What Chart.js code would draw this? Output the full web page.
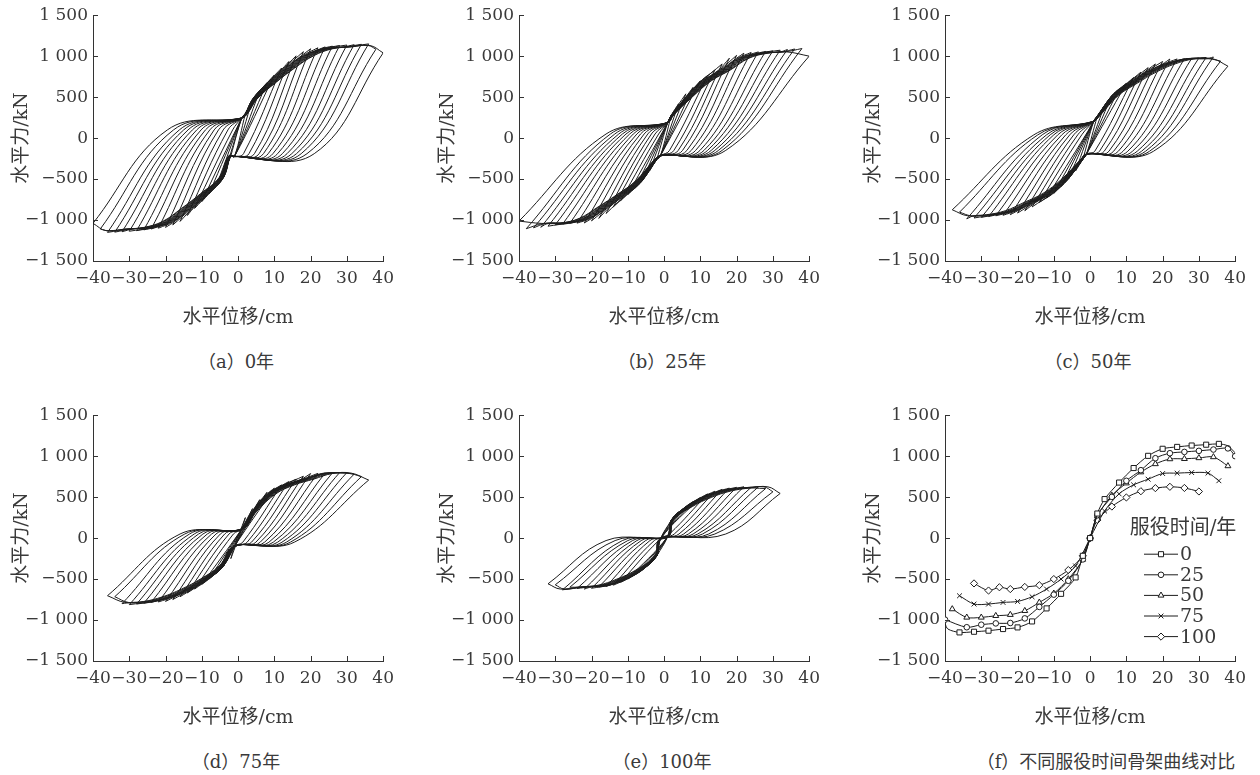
<!DOCTYPE html>
<html>
<head>
<meta charset="utf-8">
<script src="https://cdn.jsdelivr.net/npm/chart.js@4.4.0/dist/chart.umd.min.js"></script>
<style>
  html, body { margin: 0; padding: 0; background: #fff; }
  body { position: relative; width: 1260px; height: 775px; overflow: hidden; }
  canvas { position: absolute; }
  .cap {
    position: absolute; transform: translate(-50%, -50%); white-space: nowrap;
    font: 18px 'DejaVu Serif', 'Noto Sans CJK SC', serif; color: #3a3a3a;
  }
</style>
</head>
<body>
<canvas id="chartA" width="401" height="331" style="left:0px;top:0px"></canvas>
<canvas id="chartB" width="401" height="331" style="left:426px;top:0px"></canvas>
<canvas id="chartC" width="401" height="331" style="left:852px;top:0px"></canvas>
<canvas id="chartD" width="401" height="331" style="left:0px;top:400px"></canvas>
<canvas id="chartE" width="401" height="331" style="left:426px;top:400px"></canvas>
<canvas id="chartF" width="401" height="331" style="left:852px;top:400px"></canvas>

<div class="cap" style="left:236px;top:360px">（a）0年</div>
<div class="cap" style="left:662px;top:360px">（b）25年</div>
<div class="cap" style="left:1088px;top:360px">（c）50年</div>
<div class="cap" style="left:236px;top:760px">（d）75年</div>
<div class="cap" style="left:662px;top:760px">（e）100年</div>
<div class="cap" style="left:1106px;top:760px">（f）不同服役时间骨架曲线对比</div>

<script>
// ---- skeleton curves, displacement (cm) / force (kN) ----
const serviceYears = ['0', '25', '50', '75', '100'];

const skelX0 = [-40, -39.2, -36, -32, -28, -24, -20, -16, -12, -8, -4, -2, 0, 2, 4, 8, 12, 16, 20, 24, 28, 32, 35.5, 38, 40];
const skelY0 = [-1045, -1110, -1151, -1143, -1130, -1110, -1090, -1017, -858, -680, -480, -216, 0, 300, 476, 678, 855, 1004, 1090, 1113, 1130, 1140, 1150, 1125, 1040];

const skelX25 = [-40, -34, -30, -26, -22, -18, -14, -10, -6, -2, 0, 2, 6, 10, 14, 18, 22, 26, 30, 34, 38, 40];
const skelY25 = [-995, -1088, -1057, -1041, -1036, -980, -840, -690, -521, -260, 0, 280, 503, 699, 829, 975, 1036, 1052, 1065, 1081, 1095, 1000];

const skelX50 = [-38, -34, -30, -26, -22, -18, -14, -10, -6, -2, 0, 2, 6, 10, 14, 18, 22, 26, 30, 34, 38];
const skelY50 = [-866, -968, -968, -948, -935, -887, -785, -675, -500, -260, 0, 270, 520, 670, 805, 905, 965, 968, 978, 990, 880];

const skelX75 = [-36, -32, -28, -24, -20, -16, -12, -8, -4, 0, 4, 8, 12, 16, 20, 24, 28, 32.5, 35.5];
const skelY75 = [-704, -805, -805, -785, -773, -716, -622, -500, -340, 0, 330, 540, 650, 719, 788, 793, 800, 793, 700];

const skelX100 = [-32, -28, -25, -22, -18, -14, -10, -6, -2, 0, 2, 6, 10, 14, 18, 22, 26, 30];
const skelY100 = [-553, -640, -600, -622, -596, -575, -500, -390, -216, 0, 220, 385, 496, 572, 610, 626, 612, 569];

// ---- hysteresis cycles ----
// per cycle: amplitude, peak forces, knee of the pinched branches, softening of the
// reloading branch relative to the skeleton
// pinch = [upper pinch force, lower pinch force, upper knee force, lower knee force]
const ampA = [2, 4, 6, 8, 10, 12, 14, 16, 18, 20, 22, 24, 26, 28, 30, 32, 34, 36, 38, 40];
const peakPosA = [300, 476, 580, 678, 770, 855, 935, 1004, 1055, 1090, 1102, 1113, 1122, 1130, 1136, 1140, 1145, 1150, 1085, 1040];
const peakNegA = [-216, -480, -585, -680, -775, -858, -945, -1017, -1060, -1090, -1100, -1110, -1120, -1130, -1137, -1143, -1148, -1151, -1110, -1040];
const kneePosA = [null, null, null, null, null, 1.5, 3, 4.5, 5.8, 7, 8.3, 9.6, 10.9, 12.2, 13.5, 14.8, 16.1, 17.4, 19, 21];
const kneeNegA = [null, null, null, null, null, -1.5, -2.8, -4.1, -5.4, -6.6, -7.8, -9, -10.2, -11.4, -12.6, -13.8, -15, -16.2, -17.8, -19.5];
const softA = [0, 0, 0, 0, 0.01, 0.02, 0.03, 0.05, 0.07, 0.09, 0.11, 0.13, 0.15, 0.17, 0.19, 0.21, 0.23, 0.25, 0.28, 0.3];
const pinchA = [245, -225, 100, -190];

const ampB = [2, 4, 6, 8, 10, 12, 14, 16, 18, 20, 22, 24, 26, 28, 30, 32, 34, 36, 38, 40];
const peakPosB = [280, 420, 540, 620, 700, 765, 830, 905, 975, 1010, 1036, 1045, 1052, 1058, 1065, 1073, 1081, 1088, 1093, 1000];
const peakNegB = [-260, -400, -521, -610, -690, -765, -840, -920, -980, -1010, -1036, -1038, -1041, -1050, -1057, -1075, -1088, -1095, -1106, -1013];
const kneePosB = [null, null, null, null, null, 1.5, 2.7, 3.9, 5.1, 6.3, 7.5, 8.7, 9.9, 11, 12, 13, 14, 15, 16, 17];
const kneeNegB = [null, null, null, null, null, -1.5, -2.5, -3.5, -4.5, -5.5, -6.5, -7.5, -8.5, -9.5, -10.5, -11.5, -12.5, -13.6, -14.8, -16];
const softB = [0, 0, 0, 0, 0.01, 0.02, 0.03, 0.05, 0.07, 0.09, 0.11, 0.13, 0.15, 0.17, 0.19, 0.21, 0.23, 0.25, 0.28, 0.3];
const pinchB = [190, -215, 50, -150];

const ampC = [2, 4, 6, 8, 10, 12, 14, 16, 18, 20, 22, 24, 26, 28, 30, 32, 34, 36, 38];
const peakPosC = [270, 400, 520, 600, 670, 740, 805, 860, 905, 935, 965, 966, 968, 972, 978, 984, 990, 940, 878];
const peakNegC = [-260, -400, -500, -590, -675, -730, -785, -840, -887, -915, -935, -942, -948, -958, -968, -975, -985, -904, -875];
const kneePosC = [null, null, null, null, null, 1.3, 2.6, 3.9, 5.2, 6.5, 7.8, 9.1, 10.4, 11.7, 13, 14.2, 15.3, 16.4, 17.5];
const kneeNegC = [null, null, null, null, null, -1.2, -2.3, -3.4, -4.5, -5.6, -6.7, -7.8, -8.9, -10, -11, -12, -13.2, -14.4, -15.5];
const softC = [0, 0, 0, 0, 0.01, 0.02, 0.03, 0.05, 0.07, 0.09, 0.11, 0.13, 0.15, 0.17, 0.19, 0.21, 0.23, 0.26, 0.3];
const pinchC = [205, -195, 40, -160];

const ampD = [2, 4, 6, 8, 10, 12, 14, 16, 18, 20, 22, 24, 26, 28, 30, 32, 34, 36];
const peakPosD = [250, 360, 470, 560, 610, 650, 690, 719, 755, 788, 790, 793, 796, 800, 800, 781, 750, 708];
const peakNegD = [-250, -340, -430, -500, -565, -622, -670, -716, -750, -773, -780, -785, -795, -805, -812, -800, -715, -703];
const kneePosD = [null, null, null, null, null, 1.3, 2.5, 3.7, 4.9, 6.1, 7.3, 8.5, 9.7, 10.9, 12.1, 13.3, 14.4, 15.5];
const kneeNegD = [null, null, null, null, null, -1.3, -2.5, -3.7, -4.9, -6.1, -7.3, -8.5, -9.7, -10.9, -12.1, -13.4, -14.7, -16];
const softD = [0, 0, 0, 0, 0.01, 0.02, 0.03, 0.05, 0.07, 0.09, 0.11, 0.13, 0.15, 0.17, 0.19, 0.22, 0.26, 0.3];
const pinchD = [110, -100, 50, -50];

const ampE = [2, 4, 6, 8, 10, 12, 14, 16, 18, 20, 22, 24, 26, 28, 30, 32];
const peakPosE = [220, 320, 385, 445, 496, 540, 572, 595, 610, 620, 626, 620, 625, 605, 565, 545];
const peakNegE = [-216, -300, -390, -445, -500, -540, -575, -590, -596, -612, -622, -615, -600, -631, -570, -558];
const kneePosE = [null, null, null, null, null, 1.5, 2.8, 4.1, 5.4, 6.7, 8, 9.3, 10.6, 12.3, 14, 17];
const kneeNegE = [null, null, null, null, null, -1.5, -2.7, -3.9, -5.1, -6.3, -7.5, -8.7, -10, -11.5, -13.5, -16];
const softE = [0, 0, 0, 0, 0.01, 0.02, 0.03, 0.05, 0.07, 0.09, 0.11, 0.14, 0.17, 0.21, 0.25, 0.3];
const pinchE = [20, -10, -30, 50];

// ---- drawing ----
const FONT = "'DejaVu Serif', 'Noto Sans CJK SC', serif";
const LINE = '#1c1c1c';
const AXIS = '#333';
const TEXT = '#3a3a3a';

function toPts(xs, ys) {
  return xs.map((x, i) => ({x: x, y: ys[i]}));
}

// "1 500", "−1 000" ...
function fmt(v) {
  const s = String(Math.abs(v));
  const t = s.length > 3 ? s.slice(0, -3) + ' ' + s.slice(-3) : s;
  return (v < 0 ? '\u2212' : '') + t;
}

// one closed cycle: loading from the negative peak, unloading from the positive peak.
// Peaks are pushed twice so the spline keeps a sharp corner there.
function loopPath(d, fp, fn, kp, kn, soft, band, pinch) {
  const [pUp, pLo, kUp, kLo] = pinch;
  const shifted = band.map(q => ({x: q.x * (1 + soft), y: q.y}));
  const pts = [{x: -d, y: fn}];
  if (kn !== null) pts.push({x: kn, y: kUp});
  pts.push({x: 1, y: pUp});
  shifted.filter(q => q.x >= 2 && q.x < d - 1.5).forEach(q => pts.push(q));
  pts.push({x: d, y: fp}, {x: d, y: fp});
  if (kp !== null) pts.push({x: kp, y: kLo});
  pts.push({x: -1, y: pLo});
  shifted.filter(q => q.x <= -2 && q.x > -d + 1.5).reverse().forEach(q => pts.push(q));
  pts.push({x: -d, y: fn});
  return pts;
}

// tick marks point into the plot
const innerTicks = {
  id: 'innerTicks',
  afterDatasetsDraw(chart) {
    const {ctx, chartArea: a, scales: {x, y}} = chart;
    ctx.save();
    ctx.strokeStyle = AXIS;
    ctx.lineWidth = 1;
    ctx.beginPath();
    x.ticks.forEach(t => {
      const px = Math.round(x.getPixelForValue(t.value)) + 0.5;
      ctx.moveTo(px, a.bottom);
      ctx.lineTo(px, a.bottom - 5);
    });
    y.ticks.forEach(t => {
      const py = Math.round(y.getPixelForValue(t.value)) + 0.5;
      ctx.moveTo(a.left, py);
      ctx.lineTo(a.left + 5, py);
    });
    ctx.stroke();
    ctx.restore();
  }
};

function baseOptions() {
  return {
    responsive: false,
    animation: false,
    events: [],
    layout: {padding: {top: 14, right: 14, left: 0, bottom: 0}},
    plugins: {legend: {display: false}, tooltip: {enabled: false}},
    scales: {
      x: {
        type: 'linear', min: -40, max: 40,
        grid: {display: false, drawTicks: false},
        border: {display: true, color: AXIS, width: 1},
        ticks: {stepSize: 10, padding: 7, maxRotation: 0, autoSkip: false, color: TEXT,
                font: {family: FONT, size: 17}, callback: v => fmt(v)},
        title: {display: true, text: '水平位移/cm', color: TEXT,
                font: {family: FONT, size: 19}, padding: {top: 0, bottom: 2}},
        afterFit: s => { s.height = 70; }
      },
      y: {
        type: 'linear', min: -1500, max: 1500,
        grid: {display: false, drawTicks: false},
        border: {display: true, color: AXIS, width: 1},
        ticks: {stepSize: 500, padding: 5, color: TEXT,
                font: {family: FONT, size: 17}, callback: v => fmt(v)},
        title: {display: true, text: '水平力/kN', color: TEXT,
                font: {family: FONT, size: 19}, padding: {top: 11, bottom: 0}},
        afterFit: s => { s.width = 93; }
      }
    }
  };
}

function hystChart(id, amp, fp, fn, kp, kn, soft, skX, skY, pinch) {
  const band = toPts(skX, skY);
  const datasets = amp.map((d, i) => ({
    data: loopPath(d, fp[i], fn[i], kp[i], kn[i], soft[i], band, pinch),
    showLine: true,
    borderColor: LINE,
    borderWidth: 1,
    pointRadius: 0,
    tension: 0.4,
    fill: false
  }));
  new Chart(document.getElementById(id), {
    type: 'scatter',
    data: {datasets: datasets},
    options: baseOptions(),
    plugins: [innerTicks]
  });
}

hystChart('chartA', ampA, peakPosA, peakNegA, kneePosA, kneeNegA, softA, skelX0, skelY0, pinchA);
hystChart('chartB', ampB, peakPosB, peakNegB, kneePosB, kneeNegB, softB, skelX25, skelY25, pinchB);
hystChart('chartC', ampC, peakPosC, peakNegC, kneePosC, kneeNegC, softC, skelX50, skelY50, pinchC);
hystChart('chartD', ampD, peakPosD, peakNegD, kneePosD, kneeNegD, softD, skelX75, skelY75, pinchD);
hystChart('chartE', ampE, peakPosE, peakNegE, kneePosE, kneeNegE, softE, skelX100, skelY100, pinchE);

// ---- skeleton comparison ----
const markers = [
  {xs: skelX0, ys: skelY0, style: 'rect', r: 3.6},
  {xs: skelX25, ys: skelY25, style: 'circle', r: 2.8},
  {xs: skelX50, ys: skelY50, style: 'triangle', r: 3.4},
  {xs: skelX75, ys: skelY75, style: 'crossRot', r: 3.4},
  {xs: skelX100, ys: skelY100, style: 'rectRot', r: 3.6}
];

const skelSets = markers.map((m, i) => ({
  label: serviceYears[i],
  data: toPts(m.xs, m.ys),
  showLine: true,
  borderColor: LINE,
  borderWidth: 1,
  tension: 0.3,
  pointStyle: m.style,
  // the 0-year curve runs on past its last marked cycle
  pointRadius: i === 0 ? m.xs.map(x => Math.abs(x) > 37 ? 0 : m.r) : m.r,
  markR: m.r,
  pointBackgroundColor: '#fff',
  pointBorderColor: LINE,
  pointBorderWidth: 1
}));

const serviceLegend = {
  id: 'serviceLegend',
  afterDraw(chart) {
    const {ctx, chartArea: a} = chart;
    ctx.save();
    ctx.fillStyle = TEXT;
    ctx.font = '20px ' + FONT;
    ctx.textAlign = 'center';
    ctx.textBaseline = 'middle';
    ctx.fillText('服役时间/年', a.left + 238, a.top + 114);
    chart.data.datasets.forEach((ds, i) => {
      const y = a.top + 139 + i * 20.6;
      const x0 = a.left + 199, x1 = a.left + 233;
      ctx.strokeStyle = LINE;
      ctx.lineWidth = 1;
      ctx.beginPath();
      ctx.moveTo(x0, y);
      ctx.lineTo(x1, y);
      ctx.stroke();
      ctx.fillStyle = '#fff';
      Chart.helpers.drawPoint(ctx, {pointStyle: ds.pointStyle, radius: ds.markR, rotation: 0, borderWidth: 1}, (x0 + x1) / 2, y);
      ctx.fillStyle = TEXT;
      ctx.textAlign = 'left';
      ctx.font = '19px ' + FONT;
      ctx.fillText(ds.label, x1 + 2, y + 1);
    });
    ctx.restore();
  }
};

new Chart(document.getElementById('chartF'), {
  type: 'scatter',
  data: {datasets: skelSets},
  options: baseOptions(),
  plugins: [innerTicks, serviceLegend]
});
</script>
</body>
</html>
